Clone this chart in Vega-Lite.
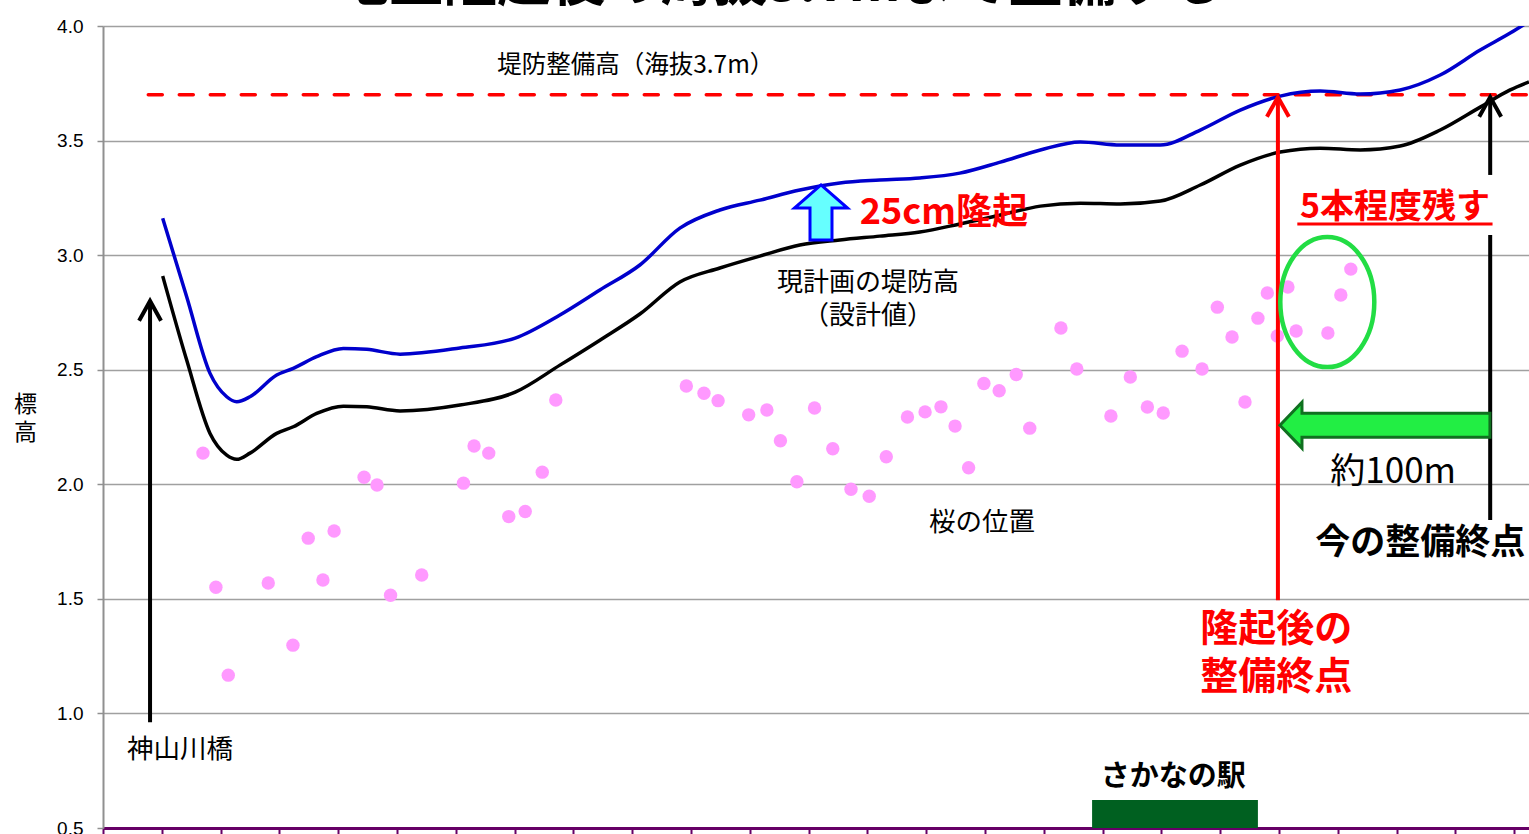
{
  "$schema": "https://vega.github.io/schema/vega-lite/v6.json",
  "autosize": {"type": "none"},
  "width": 1426,
  "height": 802,
  "padding": {"left": 103, "top": 26, "right": 0, "bottom": 6},
  "background": "white",
  "config": {
    "view": {"stroke": null},
    "font": "Noto Sans CJK JP",
    "text": {"font": "Noto Sans CJK JP"}
  },
  "datasets": {
    "curves": [
      {"pos": 1.015, "height": 2.909, "series": "現計画"},
      {"pos": 1.423, "height": 2.542, "series": "現計画"},
      {"pos": 1.820, "height": 2.222, "series": "現計画"},
      {"pos": 2.104, "height": 2.127, "series": "現計画"},
      {"pos": 2.274, "height": 2.109, "series": "現計画"},
      {"pos": 2.500, "height": 2.136, "series": "現計画"},
      {"pos": 2.954, "height": 2.222, "series": "現計画"},
      {"pos": 3.236, "height": 2.251, "series": "現計画"},
      {"pos": 3.634, "height": 2.309, "series": "現計画"},
      {"pos": 4.087, "height": 2.341, "series": "現計画"},
      {"pos": 4.485, "height": 2.338, "series": "現計画"},
      {"pos": 5.051, "height": 2.320, "series": "現計画"},
      {"pos": 6.07, "height": 2.346, "series": "現計画"},
      {"pos": 7.01, "height": 2.402, "series": "現計画"},
      {"pos": 7.77, "height": 2.520, "series": "現計画"},
      {"pos": 8.45, "height": 2.629, "series": "現計画"},
      {"pos": 9.13, "height": 2.743, "series": "現計画"},
      {"pos": 9.81, "height": 2.883, "series": "現計画"},
      {"pos": 10.49, "height": 2.944, "series": "現計画"},
      {"pos": 11.17, "height": 2.996, "series": "現計画"},
      {"pos": 11.85, "height": 3.044, "series": "現計画"},
      {"pos": 12.53, "height": 3.066, "series": "現計画"},
      {"pos": 13.21, "height": 3.083, "series": "現計画"},
      {"pos": 13.89, "height": 3.101, "series": "現計画"},
      {"pos": 14.57, "height": 3.136, "series": "現計画"},
      {"pos": 15.26, "height": 3.175, "series": "現計画"},
      {"pos": 15.94, "height": 3.214, "series": "現計画"},
      {"pos": 16.62, "height": 3.227, "series": "現計画"},
      {"pos": 17.30, "height": 3.223, "series": "現計画"},
      {"pos": 17.98, "height": 3.236, "series": "現計画"},
      {"pos": 18.66, "height": 3.306, "series": "現計画"},
      {"pos": 19.34, "height": 3.393, "series": "現計画"},
      {"pos": 20.02, "height": 3.450, "series": "現計画"},
      {"pos": 20.70, "height": 3.467, "series": "現計画"},
      {"pos": 21.38, "height": 3.459, "series": "現計画"},
      {"pos": 22.06, "height": 3.476, "series": "現計画"},
      {"pos": 22.74, "height": 3.546, "series": "現計画"},
      {"pos": 23.42, "height": 3.646, "series": "現計画"},
      {"pos": 23.93, "height": 3.721, "series": "現計画"},
      {"pos": 24.25, "height": 3.756, "series": "現計画"},
      {"pos": 1.015, "height": 3.161, "series": "隆起後"},
      {"pos": 1.423, "height": 2.818, "series": "隆起後"},
      {"pos": 1.820, "height": 2.484, "series": "隆起後"},
      {"pos": 2.104, "height": 2.382, "series": "隆起後"},
      {"pos": 2.274, "height": 2.360, "series": "隆起後"},
      {"pos": 2.500, "height": 2.382, "series": "隆起後"},
      {"pos": 2.954, "height": 2.477, "series": "隆起後"},
      {"pos": 3.236, "height": 2.506, "series": "隆起後"},
      {"pos": 3.634, "height": 2.557, "series": "隆起後"},
      {"pos": 4.087, "height": 2.593, "series": "隆起後"},
      {"pos": 4.485, "height": 2.589, "series": "隆起後"},
      {"pos": 5.051, "height": 2.568, "series": "隆起後"},
      {"pos": 6.07, "height": 2.595, "series": "隆起後"},
      {"pos": 7.01, "height": 2.638, "series": "隆起後"},
      {"pos": 7.77, "height": 2.739, "series": "隆起後"},
      {"pos": 8.45, "height": 2.848, "series": "隆起後"},
      {"pos": 9.13, "height": 2.957, "series": "隆起後"},
      {"pos": 9.81, "height": 3.118, "series": "隆起後"},
      {"pos": 10.49, "height": 3.197, "series": "隆起後"},
      {"pos": 11.17, "height": 3.240, "series": "隆起後"},
      {"pos": 11.85, "height": 3.284, "series": "隆起後"},
      {"pos": 12.53, "height": 3.315, "series": "隆起後"},
      {"pos": 13.21, "height": 3.328, "series": "隆起後"},
      {"pos": 13.89, "height": 3.337, "series": "隆起後"},
      {"pos": 14.57, "height": 3.358, "series": "隆起後"},
      {"pos": 15.26, "height": 3.406, "series": "隆起後"},
      {"pos": 15.94, "height": 3.459, "series": "隆起後"},
      {"pos": 16.62, "height": 3.494, "series": "隆起後"},
      {"pos": 17.30, "height": 3.481, "series": "隆起後"},
      {"pos": 17.98, "height": 3.481, "series": "隆起後"},
      {"pos": 18.66, "height": 3.546, "series": "隆起後"},
      {"pos": 19.34, "height": 3.633, "series": "隆起後"},
      {"pos": 20.02, "height": 3.694, "series": "隆起後"},
      {"pos": 20.70, "height": 3.716, "series": "隆起後"},
      {"pos": 21.38, "height": 3.703, "series": "隆起後"},
      {"pos": 22.06, "height": 3.721, "series": "隆起後"},
      {"pos": 22.74, "height": 3.786, "series": "隆起後"},
      {"pos": 23.42, "height": 3.895, "series": "隆起後"},
      {"pos": 23.93, "height": 3.969, "series": "隆起後"},
      {"pos": 24.25, "height": 4.02, "series": "隆起後"}
    ],
    "trees": [
      {"pos": 1.70, "height": 2.136}, {"pos": 1.92, "height": 1.551}, {"pos": 2.13, "height": 1.167},
      {"pos": 2.81, "height": 1.569}, {"pos": 3.23, "height": 1.298}, {"pos": 3.49, "height": 1.765},
      {"pos": 3.74, "height": 1.582}, {"pos": 3.93, "height": 1.796}, {"pos": 4.44, "height": 2.031},
      {"pos": 4.66, "height": 1.997}, {"pos": 4.89, "height": 1.516}, {"pos": 5.42, "height": 1.604},
      {"pos": 6.13, "height": 2.005}, {"pos": 6.31, "height": 2.167}, {"pos": 6.56, "height": 2.136},
      {"pos": 6.90, "height": 1.859}, {"pos": 7.18, "height": 1.881}, {"pos": 7.47, "height": 2.053},
      {"pos": 7.70, "height": 2.368},
      {"pos": 9.92, "height": 2.429}, {"pos": 10.22, "height": 2.397}, {"pos": 10.46, "height": 2.365},
      {"pos": 10.98, "height": 2.303}, {"pos": 11.29, "height": 2.324}, {"pos": 11.52, "height": 2.190},
      {"pos": 11.80, "height": 2.011}, {"pos": 12.10, "height": 2.333}, {"pos": 12.41, "height": 2.155},
      {"pos": 12.72, "height": 1.978}, {"pos": 13.03, "height": 1.948}, {"pos": 13.32, "height": 2.120},
      {"pos": 13.68, "height": 2.294}, {"pos": 13.98, "height": 2.316}, {"pos": 14.25, "height": 2.338},
      {"pos": 14.49, "height": 2.254}, {"pos": 14.72, "height": 2.072}, {"pos": 14.98, "height": 2.440},
      {"pos": 15.24, "height": 2.408}, {"pos": 15.53, "height": 2.479}, {"pos": 15.76, "height": 2.245},
      {"pos": 16.29, "height": 2.682}, {"pos": 16.56, "height": 2.503}, {"pos": 17.14, "height": 2.298},
      {"pos": 17.47, "height": 2.468}, {"pos": 17.76, "height": 2.337}, {"pos": 18.03, "height": 2.311},
      {"pos": 18.35, "height": 2.581}, {"pos": 18.69, "height": 2.503}, {"pos": 18.95, "height": 2.773},
      {"pos": 19.20, "height": 2.643}, {"pos": 19.42, "height": 2.359}, {"pos": 19.64, "height": 2.725},
      {"pos": 19.80, "height": 2.835}, {"pos": 19.97, "height": 2.647}, {"pos": 20.15, "height": 2.861},
      {"pos": 20.29, "height": 2.669}, {"pos": 20.83, "height": 2.660}, {"pos": 21.05, "height": 2.826},
      {"pos": 21.22, "height": 2.939}
    ]
  },
  "encoding": {
    "x": {"field": "pos", "type": "quantitative"},
    "y": {"field": "height", "type": "quantitative"}
  },
  "layer": [
    {
      "data": {"values": [{"pos": 0, "height": 0.5}]},
      "mark": {"type": "point", "opacity": 0},
      "encoding": {
        "x": {"field": "pos", "type": "quantitative",
          "scale": {"domain": [0, 24.25], "nice": false, "zero": false},
          "axis": {"title": null, "labels": false, "grid": false,
            "values": [0,1,2,3,4,5,6,7,8,9,10,11,12,13,14,15,16,17,18,19,20,21,22,23,24],
            "domainColor": "#660066", "domainWidth": 3, "tickColor": "#660066", "tickWidth": 2, "tickSize": 6}},
        "y": {"field": "height", "type": "quantitative",
          "scale": {"domain": [0.5, 4.0], "nice": false, "zero": false},
          "axis": {"title": ["標", "高"], "titleAngle": 0, "titleX": -78, "titleY": 367,
            "titleAlign": "center", "titleBaseline": "top", "titleFontSize": 23, "titleLineHeight": 28,
            "titleFontWeight": "normal", "titleFont": "Noto Sans CJK JP", "titleColor": "black",
            "values": [0.5, 1.0, 1.5, 2.0, 2.5, 3.0, 3.5, 4.0], "format": ".1f",
            "labelFontSize": 19, "labelFont": "Liberation Sans", "labelColor": "black", "labelPadding": 14,
            "gridColor": "#a0a0a0", "gridWidth": 1.5, "domainColor": "#909090", "domainWidth": 2,
            "tickColor": "#909090", "tickSize": 6, "tickWidth": 1.5}}
      }
    },
    {
      "data": {"values": [{"pos": 0.77, "end": 24.25, "height": 3.7}]},
      "mark": {"type": "rule", "color": "#ff0000", "strokeWidth": 3.5, "strokeDash": [14, 17], "strokeCap": "round"},
      "encoding": {"x2": {"field": "end"}}
    },
    {
      "data": {"name": "curves"},
      "mark": {"type": "line", "interpolate": "monotone", "strokeWidth": 3.5, "clip": true},
      "encoding": {
        "color": {"field": "series", "type": "nominal", "scale": {"domain": ["現計画", "隆起後"], "range": ["#000000", "#0000cc"]}, "legend": null}
      }
    },
    {
      "data": {"name": "trees"},
      "mark": {"type": "point", "filled": true, "shape": "circle", "size": 180, "color": "#ff99ff", "opacity": 1}
    },
    {
      "data": {"values": [{"pos": 16.82, "end": 19.64, "height": 0.5, "top": 0.622}]},
      "mark": {"type": "rect", "color": "#006020"},
      "encoding": {"x2": {"field": "end"}, "y2": {"field": "top"}}
    },
    {
      "data": {"values": [
        {"pos": 0.80, "height": 0.962, "top": 2.80},
        {"pos": 23.59, "height": 3.35, "top": 3.69},
        {"pos": 23.59, "height": 1.844, "top": 3.088}
      ]},
      "mark": {"type": "rule", "color": "black", "strokeWidth": 4},
      "encoding": {"y2": {"field": "top"}}
    },
    {
      "data": {"values": [{"pos": 19.98, "height": 1.494, "top": 3.69}]},
      "mark": {"type": "rule", "color": "#ff0000", "strokeWidth": 4},
      "encoding": {"y2": {"field": "top"}}
    },
    {
      "data": {"values": [{"pos": 0.80, "height": 2.80}, {"pos": 23.59, "height": 3.69}]},
      "mark": {"type": "point", "shape": "M-1,1.8L0,0L1,1.8", "size": 400, "filled": false, "stroke": "black", "strokeWidth": 4, "opacity": 1, "strokeCap": "square"}
    },
    {
      "data": {"values": [{"pos": 19.98, "height": 3.69}]},
      "mark": {"type": "point", "shape": "M-1,1.8L0,0L1,1.8", "size": 400, "filled": false, "stroke": "#ff0000", "strokeWidth": 4, "opacity": 1, "strokeCap": "square"}
    },
    {
      "data": {"values": [{"pos": 12.21, "height": 3.186}]},
      "mark": {"type": "point", "shape": "M0,-1.04L1,-0.17L0.415,-0.17L0.415,1.04L-0.415,1.04L-0.415,-0.17L-1,-0.17Z",
        "size": 2809, "filled": true, "fill": "#66ffff", "stroke": "#0000ff", "strokeWidth": 3, "opacity": 1}
    },
    {
      "data": {"values": [{"pos": 21.80, "height": 2.258}]},
      "mark": {"type": "point", "shape": "M-1,0L-0.79,-0.219L-0.79,-0.114L1,-0.114L1,0.114L-0.79,0.114L-0.79,0.219Z",
        "size": 44100, "filled": true, "fill": "#22ee44", "stroke": "#107020", "strokeWidth": 3, "opacity": 1}
    },
    {
      "data": {"values": [{"pos": 20.82, "height": 2.795}]},
      "mark": {"type": "point", "shape": "M1,0C1,0.764 0.552,1.383 0,1.383C-0.552,1.383 -1,0.764 -1,0C-1,-0.764 -0.552,-1.383 0,-1.383C0.552,-1.383 1,-0.764 1,0Z",
        "size": 8836, "filled": false, "stroke": "#22dd44", "strokeWidth": 4.5, "opacity": 1}
    },
    {
      "data": {"values": [{"pos": 20.31, "end": 23.63, "height": 3.136}]},
      "mark": {"type": "rule", "color": "#ff0000", "strokeWidth": 3},
      "encoding": {"x2": {"field": "end"}}
    },
    {
      "data": {"values": [{"pos": 11.51, "height": 4.06, "label": "地盤隆起後の海抜3.7mまで整備する"}]},
      "mark": {"type": "text", "fontSize": 54, "fontWeight": "bold", "align": "center", "baseline": "bottom", "color": "black"},
      "encoding": {"text": {"field": "label"}}
    },
    {
      "data": {"values": [
        {"pos": 9.06, "height": 3.825, "label": "堤防整備高（海抜3.7m）"}
      ]},
      "mark": {"type": "text", "fontSize": 24.5, "align": "center", "baseline": "middle", "color": "black"},
      "encoding": {"text": {"field": "label"}}
    },
    {
      "data": {"values": [
        {"pos": 13.01, "height": 2.878, "label": ["現計画の堤防高", "（設計値）"]}
      ]},
      "mark": {"type": "text", "fontSize": 26, "align": "center", "baseline": "middle", "lineHeight": 33, "color": "black"},
      "encoding": {"text": {"field": "label"}}
    },
    {
      "data": {"values": [
        {"pos": 14.95, "height": 1.831, "label": "桜の位置"},
        {"pos": 1.31, "height": 0.840, "label": "神山川橋"}
      ]},
      "mark": {"type": "text", "fontSize": 26.5, "align": "center", "baseline": "middle", "color": "black"},
      "encoding": {"text": {"field": "label"}}
    },
    {
      "data": {"values": [{"pos": 21.94, "height": 2.053, "label": "約100m"}]},
      "mark": {"type": "text", "fontSize": 35, "align": "center", "baseline": "middle", "color": "black"},
      "encoding": {"text": {"field": "label"}}
    },
    {
      "data": {"values": [
        {"pos": 22.40, "height": 1.743, "label": "今の整備終点"}
      ]},
      "mark": {"type": "text", "fontSize": 35, "fontWeight": "bold", "align": "center", "baseline": "middle", "color": "black"},
      "encoding": {"text": {"field": "label"}}
    },
    {
      "data": {"values": [{"pos": 18.20, "height": 0.722, "label": "さかなの駅"}]},
      "mark": {"type": "text", "fontSize": 29, "fontWeight": "bold", "align": "center", "baseline": "middle", "color": "black"},
      "encoding": {"text": {"field": "label"}}
    },
    {
      "data": {"values": [
        {"pos": 12.87, "height": 3.184, "label": "25cm隆起"}
      ]},
      "mark": {"type": "text", "fontSize": 36, "fontWeight": "bold", "align": "left", "baseline": "middle", "color": "#ff0000"},
      "encoding": {"text": {"field": "label"}}
    },
    {
      "data": {"values": [
        {"pos": 21.97, "height": 3.206, "label": "5本程度残す"}
      ]},
      "mark": {"type": "text", "fontSize": 34, "fontWeight": "bold", "align": "center", "baseline": "middle", "color": "#ff0000"},
      "encoding": {"text": {"field": "label"}}
    },
    {
      "data": {"values": [
        {"pos": 19.95, "height": 1.364, "label": ["隆起後の", "整備終点"]}
      ]},
      "mark": {"type": "text", "fontSize": 38, "fontWeight": "bold", "align": "center", "baseline": "middle", "lineHeight": 48, "color": "#ff0000"},
      "encoding": {"text": {"field": "label"}}
    }
  ]
}
